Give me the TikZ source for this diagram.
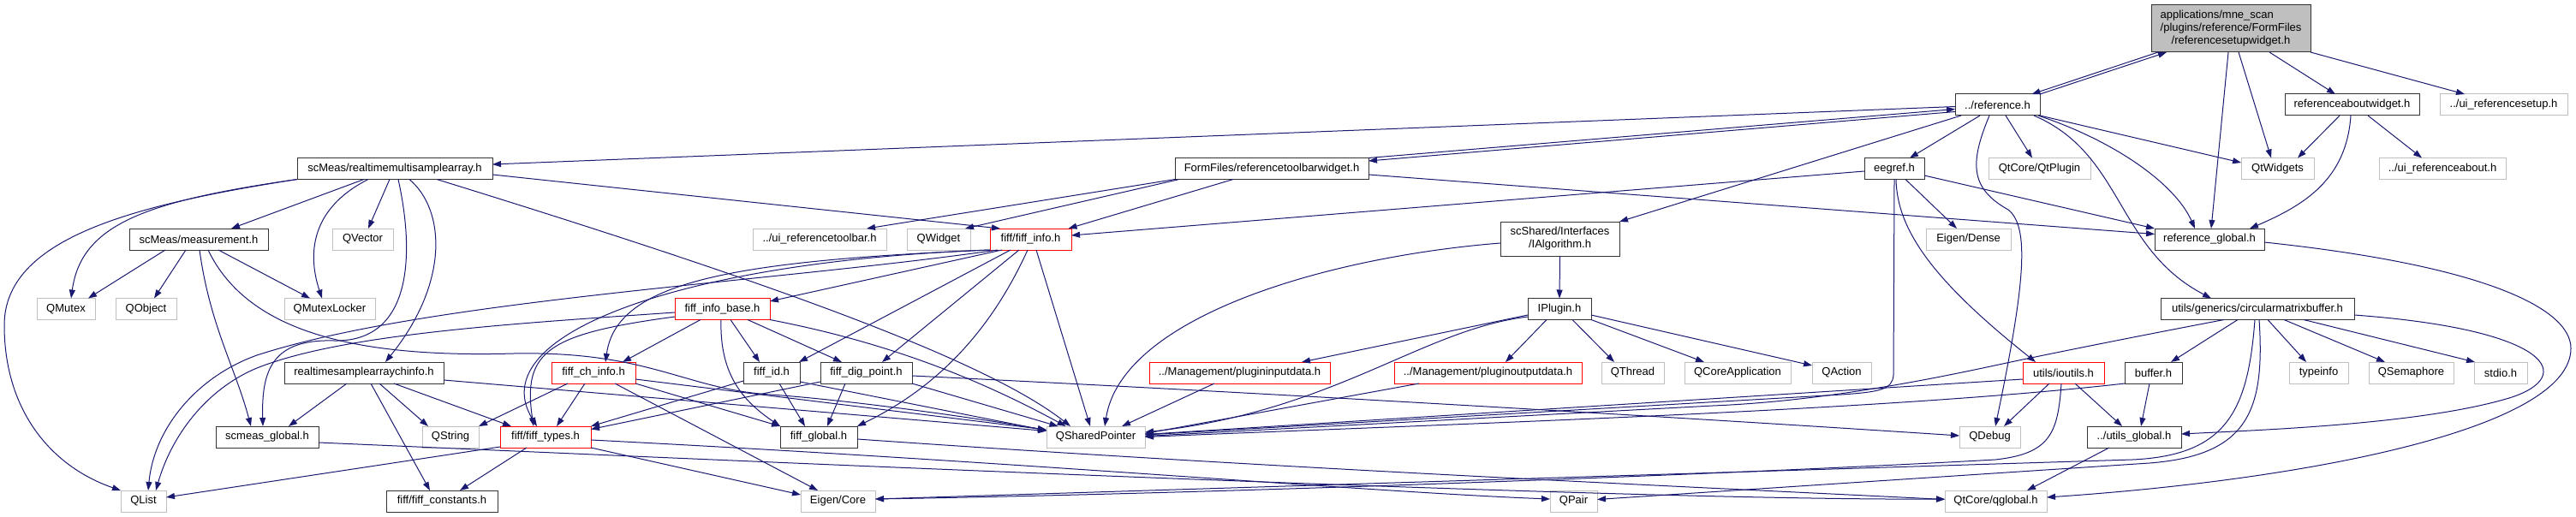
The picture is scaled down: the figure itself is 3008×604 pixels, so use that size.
\documentclass[tikz,border=0pt]{standalone}
\usepackage{fontspec}
\setmainfont{Liberation Sans}
\usetikzlibrary{arrows.meta}
\definecolor{edgeblue}{HTML}{191970}
\definecolor{boxgray}{HTML}{BFBFBF}
\definecolor{boxred}{HTML}{FF0000}

\begin{document}
\begin{tikzpicture}[x=1pt, y=-1pt,
    file/.style={draw=black!80, line width=1pt, fill=white, minimum height=25pt,
      inner sep=0pt, outer sep=0pt, font=\fontsize{13}{15}\selectfont},
    ext/.style={file, draw=boxgray},
    trunc/.style={file, draw=boxred},
    dep/.style={draw=edgeblue, line width=1pt, -{Triangle[length=10pt,width=7pt]}}]
        \useasboundingbox (0,0) rectangle (3008,604);

        % The header itself
        \node[file, fill=boxgray, minimum width=186pt, minimum height=55pt] (root) at (2605,33.5)
            {\begin{tabular}{@{}c@{}}\multicolumn{1}{@{}l@{}}{applications/mne\_scan}\\/plugins/reference/FormFiles\\/referencesetupwidget.h\end{tabular}};

        % First and second level includes
        \node[file, minimum width=99pt] (ref) at (2332.5,122.5) {../reference.h};
        \node[file, minimum width=157pt] (about) at (2746.5,122.5) {referenceaboutwidget.h};
        \node[ext, minimum width=149pt] (uisetup) at (2923.5,122.5) {../ui\_referencesetup.h};

        \node[file, minimum width=228pt] (rtmsa) at (461,197) {scMeas/realtimemultisamplearray.h};
        \node[file, minimum width=226pt] (toolbar) at (1485,197) {FormFiles/referencetoolbarwidget.h};
        \node[file, minimum width=70pt] (eegref) at (2212,197) {eegref.h};
        \node[ext, minimum width=119pt] (qtplugin) at (2381.5,197) {QtCore/QtPlugin};
        \node[ext, minimum width=85pt] (qtwidgets) at (2659.5,197) {QtWidgets};
        \node[ext, minimum width=148pt] (uiabout) at (2852,197) {../ui\_referenceabout.h};

        \node[file, minimum width=139pt, minimum height=40pt, align=center] (ialgo) at (1821.5,279)
            {scShared/Interfaces\\/IAlgorithm.h};

        \node[file, minimum width=162pt] (measurement) at (232,279.5) {scMeas/measurement.h};
        \node[ext, minimum width=71pt] (qvector) at (423.5,279.5) {QVector};
        \node[ext, minimum width=156pt] (uitoolbar) at (957,279.5) {../ui\_referencetoolbar.h};
        \node[ext, minimum width=74pt] (qwidget) at (1096,279.5) {QWidget};
        \node[trunc, minimum width=95pt] (fiffinfo) at (1203.5,279.5) {fiff/fiff\_info.h};
        \node[ext, minimum width=99pt] (eigendense) at (2298.5,279.5) {Eigen/Dense};
        \node[file, minimum width=128pt] (refglobal) at (2580,279.5) {reference\_global.h};

        % Middle rows
        \node[ext, minimum width=68pt] (qmutex) at (77,361) {QMutex};
        \node[ext, minimum width=71pt] (qobject) at (170.5,361) {QObject};
        \node[ext, minimum width=106pt] (qmutexlocker) at (385,361) {QMutexLocker};
        \node[trunc, minimum width=111pt] (infobase) at (843.5,361) {fiff\_info\_base.h};
        \node[file, minimum width=74pt] (iplugin) at (1821,361) {IPlugin.h};
        \node[file, minimum width=226pt] (cmbuffer) at (2636,361) {utils/generics/circularmatrixbuffer.h};

        \node[file, minimum width=186pt] (rtsachinfo) at (425,435.5) {realtimesamplearraychinfo.h};
        \node[trunc, minimum width=98pt] (chinfo) at (693,435.5) {fiff\_ch\_info.h};
        \node[file, minimum width=66pt] (fiffid) at (901,435.5) {fiff\_id.h};
        \node[file, minimum width=107pt] (digpoint) at (1011.5,435.5) {fiff\_dig\_point.h};
        \node[trunc, minimum width=211pt] (pin) at (1447.5,435.5) {../Management/plugininputdata.h};
        \node[trunc, minimum width=219pt] (pout) at (1737.5,435.5) {../Management/pluginoutputdata.h};
        \node[ext, minimum width=73pt] (qthread) at (1906.5,435.5) {QThread};
        \node[ext, minimum width=124pt] (qcoreapp) at (2029,435.5) {QCoreApplication};
        \node[ext, minimum width=69pt] (qaction) at (2150.5,435.5) {QAction};
        \node[trunc, minimum width=95pt] (ioutils) at (2409.5,435.5) {utils/ioutils.h};
        \node[file, minimum width=67pt] (buffer) at (2514.5,435.5) {buffer.h};
        \node[ext, minimum width=69pt] (typeinfo) at (2707.5,435.5) {typeinfo};
        \node[ext, minimum width=99pt] (qsemaphore) at (2815.5,435.5) {QSemaphore};
        \node[ext, minimum width=62pt] (stdio) at (2920,435.5) {stdio.h};

        % Bottom rows
        \node[file, minimum width=120pt] (scmeasglobal) at (312,510.5) {scmeas\_global.h};
        \node[ext, minimum width=66pt] (qstring) at (526,510.5) {QString};
        \node[trunc, minimum width=106pt] (fifftypes) at (637,510.5) {fiff/fiff\_types.h};
        \node[file, minimum width=90pt] (fiffglobal) at (956,510.5) {fiff\_global.h};
        \node[ext, minimum width=115pt] (qshared) at (1279.5,510.5) {QSharedPointer};
        \node[ext, minimum width=71pt] (qdebug) at (2323.5,510.5) {QDebug};
        \node[file, minimum width=110pt] (utilsglobal) at (2492,510.5) {../utils\_global.h};

        \node[ext, minimum width=53pt] (qlist) at (167.5,585.5) {QList};
        \node[file, minimum width=130pt] (fiffconst) at (516,585.5) {fiff/fiff\_constants.h};
        \node[ext, minimum width=87pt] (eigencore) at (978.5,585.5) {Eigen/Core};
        \node[ext, minimum width=55pt] (qpair) at (1837.5,585.5) {QPair};
        \node[ext, minimum width=119pt] (qglobal) at (2330.5,585.5) {QtCore/qglobal.h};

        % Includes of the header
        \draw[dep] ([xshift=-85pt]root.south) -- ([xshift=40pt]ref.north);
        \draw[dep] (ref.north east) -- ([xshift=-75pt]root.south);
        \draw[dep] ([xshift=-3pt]root.south) -- ([xshift=2pt]refglobal.north);
        \draw[dep] ([xshift=9pt]root.south) -- ([xshift=-7.5pt]qtwidgets.north);
        \draw[dep] ([xshift=45pt]root.south) -- ([xshift=-19.5pt]about.north);
        \draw[dep] (root.south east) -- ([xshift=-45.5pt]uisetup.north);

        % reference.h
        \draw[dep] ([yshift=-2pt]ref.west) -- ([yshift=5pt]rtmsa.east);
        \draw[dep] ([yshift=-8pt]ref.west) -- ([yshift=9pt]toolbar.east);
        \draw[dep] ([yshift=12.5pt]toolbar.east) -- ([yshift=-5pt]ref.west);
        \draw[dep] ([xshift=-42.5pt]ref.south) -- (ialgo.north east);
        \draw[dep] ([xshift=-20.5pt]ref.south) -- ([xshift=18pt]eegref.north);
        \draw[dep] ([xshift=9.5pt]ref.south) -- ([xshift=-8.5pt]qtplugin.north);
        \draw[dep] ([xshift=-9.5pt]ref.south) .. controls (2300,190) and (2300,220) .. (2345,245)
            .. controls (2370,265) and (2365,330) .. ([xshift=6.5pt]qdebug.north);
        \draw[dep] (ref.south east) -- ([yshift=7pt]qtwidgets.west);
        \draw[dep] ([xshift=47.5pt]ref.south) .. controls (2470,165) and (2540,215) .. ([xshift=-17pt]refglobal.north);
        \draw[dep] ([xshift=42.5pt]ref.south) .. controls (2480,180) and (2470,290) .. ([xshift=-54pt]cmbuffer.north);

        % referencetoolbarwidget.h
        \draw[dep] (toolbar.south west) -- ([xshift=55pt]uitoolbar.north);
        \draw[dep] ([xshift=-108pt]toolbar.south) -- ([xshift=31pt]qwidget.north);
        \draw[dep] ([xshift=-45pt]toolbar.south) -- ([xshift=44pt]fiffinfo.north);
        \draw[dep] ([yshift=-7pt]toolbar.east) -- ([yshift=6pt]refglobal.west);

        % eegref.h
        \draw[dep] ([yshift=-3pt]eegref.west) -- ([yshift=4.5pt]fiffinfo.east);
        \draw[dep] ([yshift=-8pt]eegref.east) -- (refglobal.north west);
        \draw[dep] ([xshift=13pt]eegref.south) -- ([xshift=-13.5pt]eigendense.north);
        \draw[dep] (eegref.south) -- (2211,438) .. controls (2210,455) and (2195,458) .. (2150,461)
            -- ([yshift=2.5pt]qshared.east);
        \draw[dep] ([xshift=2pt]eegref.south) .. controls (2215,270) and (2260,330) .. ([xshift=-32.5pt]ioutils.north);

        % referenceaboutwidget.h
        \draw[dep] ([xshift=-14.5pt]about.south) -- ([xshift=23.5pt]qtwidgets.north);
        \draw[dep] ([xshift=-1.5pt]about.south) .. controls (2740,210) and (2690,240) .. ([xshift=47pt]refglobal.north);
        \draw[dep] ([xshift=18.5pt]about.south) -- ([xshift=-24pt]uiabout.north);

        % reference_global.h
        \draw[dep] ([yshift=-3.5pt]refglobal.east) .. controls (2900,310) and (3002,360) .. (3002,407)
            .. controls (3002,500) and (2700,560) .. ([yshift=4.5pt]qglobal.east);

        % circularmatrixbuffer.h
        \draw[dep] ([xshift=-23pt]cmbuffer.south) -- ([xshift=20.5pt]buffer.north);
        \draw[dep] ([yshift=-7pt]cmbuffer.east) .. controls (2980,385) and (3010,440) .. (2930,465)
            .. controls (2830,495) and (2650,502) .. ([yshift=3.5pt]utilsglobal.east);
        \draw[dep] ([xshift=12pt]cmbuffer.south) -- ([xshift=-14.5pt]typeinfo.north);
        \draw[dep] ([xshift=31pt]cmbuffer.south) -- ([xshift=-30.5pt]qsemaphore.north);
        \draw[dep] ([xshift=54pt]cmbuffer.south) -- ([xshift=-30pt]stdio.north);
        \draw[dep] ([xshift=-39pt]cmbuffer.south) .. controls (2500,392) and (2420,408) .. (2362,420)
            .. controls (2300,433) and (2150,468) .. (2000,474) -- ([yshift=1pt]qshared.east);
        \draw[dep] ([xshift=-3pt]cmbuffer.south) .. controls (2625,480) and (2600,532) .. (2490,537)
            -- ([yshift=2.5pt]eigencore.east);
        \draw[dep] ([xshift=2pt]cmbuffer.south) .. controls (2645,480) and (2625,532) .. (2510,541)
            -- ([yshift=2pt]qpair.east);

        % ioutils.h and buffer.h
        \draw[dep] ([yshift=-7.5pt]ioutils.west) -- ([yshift=3pt]qshared.east);
        \draw[dep] ([xshift=-16.5pt]ioutils.south) -- ([xshift=16.5pt]qdebug.north);
        \draw[dep] ([xshift=13.5pt]ioutils.south) -- ([xshift=-14pt]utilsglobal.north);
        \draw[dep] ([xshift=-2.5pt]ioutils.south) .. controls (2403,505) and (2395,530) .. (2330,537)
            .. controls (2100,550) and (1500,575) .. ([yshift=2.5pt]eigencore.east);
        \draw[dep] (buffer.south west) .. controls (2200,480) and (1700,495) .. (qshared.east);
        \draw[dep] ([xshift=-4.5pt]buffer.south) -- ([xshift=8pt]utilsglobal.north);
        \draw[dep] ([xshift=-29pt]utilsglobal.south) -- ([xshift=36.5pt]qglobal.north);

        % realtimemultisamplearray.h
        \draw[dep] (rtmsa.south west) .. controls (150,240) and (5,280) .. (5,380)
            .. controls (5,480) and (60,545) .. (qlist.north west);
        \draw[dep] (rtmsa.south west) .. controls (170,235) and (95,262) .. ([xshift=6pt]qmutex.north);
        \draw[dep] ([xshift=-36pt]rtmsa.south) -- ([xshift=38pt]measurement.north);
        \draw[dep] ([xshift=-31pt]rtmsa.south) .. controls (360,245) and (360,300) .. ([xshift=-9pt]qmutexlocker.north);
        \draw[dep] ([xshift=-6pt]rtmsa.south) -- ([xshift=6.5pt]qvector.north);
        \draw[dep] ([xshift=4pt]rtmsa.south) .. controls (485,300) and (480,400) .. (390,398)
            .. controls (320,396) and (305,430) .. ([xshift=-5pt]scmeasglobal.north);
        \draw[dep] ([xshift=17pt]rtmsa.south) .. controls (520,245) and (525,330) .. ([xshift=25pt]rtsachinfo.north);
        \draw[dep] ([yshift=-7pt]rtmsa.east) -- ([xshift=-35.5pt]fiffinfo.north);
        \draw[dep] ([xshift=49pt]rtmsa.south) .. controls (900,330) and (1150,420) .. ([xshift=-29.5pt]qshared.north);

        % measurement.h
        \draw[dep] ([xshift=-39pt]measurement.south) -- ([xshift=26pt]qmutex.north);
        \draw[dep] ([xshift=-15pt]measurement.south) -- ([xshift=9.5pt]qobject.north);
        \draw[dep] ([xshift=1pt]measurement.south) .. controls (245,380) and (275,430) .. ([xshift=-19pt]scmeasglobal.north);
        \draw[dep] ([xshift=23pt]measurement.south) -- ([xshift=-23pt]qmutexlocker.north);
        \draw[dep] ([xshift=11pt]measurement.south) .. controls (290,390) and (420,418) .. (600,413)
            .. controls (760,410) and (800,455) .. (900,461) .. controls (1000,468) and (1150,490) .. ([yshift=8pt]qshared.west);

        % realtimesamplearraychinfo.h
        \draw[dep] ([xshift=-20pt]rtsachinfo.south) -- ([xshift=25pt]scmeasglobal.north);
        \draw[dep] ([xshift=8pt]rtsachinfo.south) -- ([xshift=-14pt]fiffconst.north);
        \draw[dep] ([xshift=18pt]rtsachinfo.south) -- ([xshift=-26pt]qstring.north);
        \draw[dep] ([xshift=35pt]rtsachinfo.south) -- ([xshift=-40pt]fifftypes.north);
        \draw[dep] ([yshift=-8.5pt]rtsachinfo.east) -- ([yshift=7pt]qshared.west);
        \draw[dep] ([yshift=-6.5pt]scmeasglobal.east) .. controls (900,540) and (1900,585) .. ([yshift=2.5pt]qglobal.west);

        % fiff_info.h
        \draw[dep] ([xshift=-38.5pt]fiffinfo.south) .. controls (900,330) and (500,350) .. (300,415)
            .. controls (230,440) and (180,500) .. ([xshift=5.5pt]qlist.north);
        \draw[dep] ([xshift=-33.5pt]fiffinfo.south) -- ([yshift=9pt]infobase.east);
        \draw[dep] (fiffinfo.south west) .. controls (850,305) and (720,330) .. ([xshift=14pt]chinfo.north);
        \draw[dep] (fiffinfo.south west) .. controls (800,305) and (560,390) .. ([xshift=-10pt]fifftypes.north);
        \draw[dep] ([xshift=-23.5pt]fiffinfo.south) -- ([xshift=32pt]fiffid.north);
        \draw[dep] ([xshift=-13.5pt]fiffinfo.south) -- ([xshift=18.5pt]digpoint.north);
        \draw[dep] ([xshift=-3.5pt]fiffinfo.south) .. controls (1160,380) and (1100,450) .. (fiffglobal.north east);
        \draw[dep] ([xshift=6.5pt]fiffinfo.south) -- ([xshift=-6.5pt]qshared.north);

        % fiff_info_base.h
        \draw[dep] ([yshift=-4pt]infobase.west) .. controls (600,378) and (400,390) .. (300,430)
            .. controls (240,455) and (200,510) .. ([xshift=14.5pt]qlist.north);
        \draw[dep] ([xshift=-25.5pt]infobase.south) -- ([xshift=34pt]chinfo.north);
        \draw[dep] ([yshift=-9pt]infobase.west) .. controls (640,390) and (610,410) .. ([xshift=-14pt]fifftypes.north);
        \draw[dep] ([xshift=9.5pt]infobase.south) -- ([xshift=-14pt]fiffid.north);
        \draw[dep] ([xshift=29.5pt]infobase.south) -- ([xshift=-28.5pt]digpoint.north);
        \draw[dep] ([xshift=-1.5pt]infobase.south) .. controls (840,440) and (870,470) .. (fiffglobal.north west);
        \draw[dep] (infobase.south east) .. controls (1010,395) and (1120,430) .. ([xshift=-35pt]qshared.north);

        % fiff_ch_info.h
        \draw[dep] ([xshift=-30pt]chinfo.south) -- (qstring.north east);
        \draw[dep] ([xshift=-10pt]chinfo.south) -- ([xshift=13pt]fifftypes.north);
        \draw[dep] ([xshift=25pt]chinfo.south) -- ([xshift=-23.5pt]eigencore.north);
        \draw[dep] (chinfo.south east) -- (fiffglobal.north west);
        \draw[dep] ([yshift=-7.5pt]chinfo.east) -- ([yshift=8.5pt]qshared.west);

        % fiff_id.h and fiff_dig_point.h
        \draw[dep] ([yshift=-9.5pt]fiffid.west) -- (fifftypes.north east);
        \draw[dep] ([xshift=9pt]fiffid.south) -- ([xshift=-16pt]fiffglobal.north);
        \draw[dep] ([yshift=-10.5pt]fiffid.east) -- ([yshift=7.5pt]qshared.west);
        \draw[dep] ([yshift=-10.5pt]digpoint.west) -- ([yshift=9pt]fifftypes.east);
        \draw[dep] ([xshift=-24.5pt]digpoint.south) -- ([xshift=10pt]fiffglobal.north);
        \draw[dep] (digpoint.south east) -- ([xshift=-44pt]qshared.north);
        \draw[dep] ([yshift=-3.5pt]digpoint.east) .. controls (1500,460) and (2000,490) .. ([yshift=1.5pt]qdebug.west);

        % fiff_types.h and fiff_global.h
        \draw[dep] ([xshift=-22pt]fifftypes.south) -- ([xshift=21pt]fiffconst.north);
        \draw[dep] ([yshift=-11.5pt]fifftypes.west) -- ([yshift=4.5pt]qlist.east);
        \draw[dep] (fifftypes.south east) -- ([yshift=7.5pt]eigencore.west);
        \draw[dep] ([yshift=-3.5pt]fifftypes.east) .. controls (1200,540) and (1600,575) .. ([yshift=2.5pt]qpair.west);
        \draw[dep] ([yshift=-2.5pt]fiffglobal.east) .. controls (1500,548) and (2000,570) .. ([yshift=2pt]qglobal.west);

        % IAlgorithm.h and IPlugin.h
        \draw[dep] ([yshift=-5pt]ialgo.west) .. controls (1550,300) and (1310,370) .. ([xshift=10.5pt]qshared.north);
        \draw[dep] (ialgo.south) -- (iplugin.north);
        \draw[dep] ([yshift=-7pt]iplugin.west) -- ([xshift=72.5pt]pin.north);
        \draw[dep] ([xshift=-15pt]iplugin.south) -- ([xshift=20.5pt]pout.north);
        \draw[dep] ([xshift=15pt]iplugin.south) -- ([xshift=-21.5pt]qthread.north);
        \draw[dep] (iplugin.south east) -- ([xshift=-39pt]qcoreapp.north);
        \draw[dep] ([yshift=-7pt]iplugin.east) -- ([yshift=8.5pt]qaction.west);
        \draw[dep] ([yshift=-9pt]iplugin.west) .. controls (1660,385) and (1560,480) .. ([yshift=5.5pt]qshared.east);
        \draw[dep] ([xshift=-29.5pt]pin.south) -- ([xshift=30.5pt]qshared.north);
        \draw[dep] ([xshift=-80.5pt]pout.south) -- ([yshift=4pt]qshared.east);
    \end{tikzpicture}
\end{document}
